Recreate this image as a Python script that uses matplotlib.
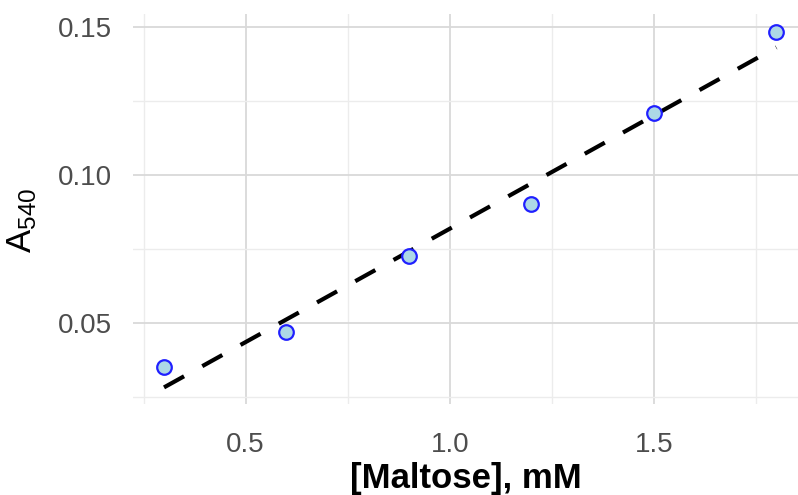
import numpy as np
import matplotlib.pyplot as plt
from matplotlib.ticker import MultipleLocator

plt.rcParams['font.family'] = ['Liberation Sans', 'DejaVu Sans']

# maltose standard curve
maltose = [0.3, 0.6, 0.9, 1.2, 1.5, 1.8]
a540 = [0.0353, 0.0470, 0.0728, 0.0902, 0.1210, 0.1483]
x_ticks = [0.5, 1.0, 1.5]
y_ticks = [0.05, 0.10, 0.15]

fig = plt.figure(figsize=(7.98, 4.95), dpi=100)
ax = fig.add_axes([133 / 798, 91 / 495, 665 / 798, 390 / 495])

# least-squares fit drawn across the data range
slope, icept = np.polyfit(maltose, a540, 1)
xs = np.array([min(maltose), max(maltose)])
ax.plot(xs, slope * xs + icept, color='black', lw=3.0, ls=(0, (5.5, 5)),
        dash_capstyle='butt', zorder=2)

ax.plot(maltose, a540, 'o', ms=10.5, mfc='#add8e6', mec='#2020ff', mew=1.6,
        zorder=3)

ax.set_xlim(0.224, 1.853)
ax.set_ylim(0.0227, 0.1545)
ax.set_xticks(x_ticks)
ax.set_xticklabels(['0.5', '1.0', '1.5'])
ax.set_yticks(y_ticks)
ax.set_yticklabels(['0.05', '0.10', '0.15'])
ax.xaxis.set_minor_locator(MultipleLocator(0.5, offset=0.25))
ax.yaxis.set_minor_locator(MultipleLocator(0.05, offset=0.025))

ax.grid(which='major', color='#d9d9d9', lw=1.3)
ax.grid(which='minor', color='#ececec', lw=1.0)
ax.set_axisbelow(True)
for s in ax.spines.values():
    s.set_visible(False)
ax.tick_params(which='both', length=0)
ax.tick_params(axis='x', labelsize=20, labelcolor='#4d4d4d', pad=20)
ax.tick_params(axis='y', labelsize=20, labelcolor='#4d4d4d', pad=15)

ax.set_xlabel('[Maltose], mM', fontsize=25, fontweight='bold', labelpad=3)
ax.set_ylabel(r'$\mathregular{A_{540}}$', fontsize=25)
ax.yaxis.set_label_coords(-0.142, 0.47)

fig.savefig('out.png', dpi=100)
